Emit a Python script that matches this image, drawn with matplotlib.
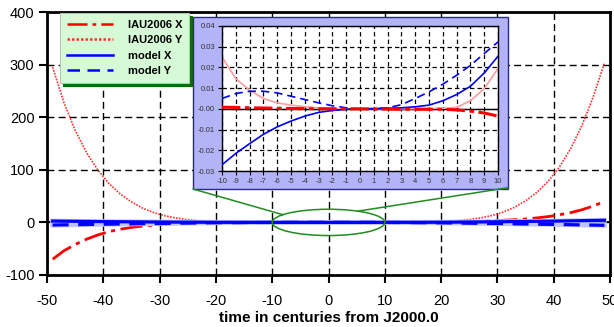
import matplotlib
matplotlib.use('Agg')
import matplotlib.pyplot as plt
from matplotlib.patches import Ellipse, Rectangle, ConnectionPatch

plt.rcParams['font.family'] = ['Liberation Sans', 'DejaVu Sans']
plt.rcParams['axes.unicode_minus'] = False

# main curves (centuries from J2000.0)
x_main = [-49, -47, -45, -43, -41, -39, -37, -35, -33, -31, -29, -27, -25,
          -23, -21, -19, -17, -15, -13, -11, -9, -7, -5, -3, -1,
          1, 3, 5, 7, 9, 11, 13, 15, 17, 19, 21, 23, 25, 27, 29, 31, 33,
          35, 37, 39, 41, 43, 45, 47, 49]
iau_x = [-70, -54, -42, -32, -24, -17.5, -13, -9.5, -7, -5, -3.4, -2.3, -1.5,
         -0.9, -0.5, -0.3, -0.15, -0.07, -0.03, -0.01, 0.0, 0.0, 0.0, 0.0, 0.0,
         0.0, 0.0, 0.0, 0.0, 0.0, -0.01, 0.0, 0.05, 0.15, 0.3, 0.6, 1.0, 1.5,
         2.2, 3.0, 4.0, 5.0, 6.5, 8.5, 11, 14.5, 18.5, 24, 31, 40]
iau_y = [295, 228, 175, 133, 100, 74, 54, 39, 27, 18.5, 12.5, 8.2, 5.2,
         3.1, 1.8, 1.0, 0.5, 0.25, 0.1, 0.04, 0.015, 0.005, 0.002, 0.0, 0.0,
         0.0, 0.0, 0.002, 0.001, 0.01, 0.04, 0.1, 0.25, 0.5, 1.0, 1.9, 3.2,
         5.4, 8.5, 13, 19.5, 28.5, 41, 57, 78, 105, 140, 184, 238, 303]
x_model = [-49, -40, -30, -20, -10, 0, 10, 20, 30, 40, 49]
model_x = [2.5, 1.5, 0.7, 0.2, -0.027, 0, 0.025, 0.3, 1.2, 2.4, 4]
model_y = [-5, -3.5, -2, -0.6, 0.005, 0, 0.032, -0.8, -2.2, -3.8, -5.5]

# zoomed part, -10..10
x_zoom = [-10, -9, -8, -7, -6, -5, -4, -3, -2, -1, 0, 1, 2, 3, 4, 5, 6, 7, 8, 9, 10]
zoom_iau_x = [0.0008, 0.0007, 0.0005, 0.0004, 0.0003, 0.0002, 0.0001, 0.00005,
              0.00002, 0.0, 0.0, -0.00005, -0.0001, -0.0002, -0.0002, -0.0002,
              -0.0002, -0.0005, -0.0011, -0.002, -0.0035]
zoom_iau_y = [0.025, 0.0146, 0.009, 0.005, 0.0029, 0.0018, 0.001, 0.0005, 0.0002,
              0.0, 0.0, 0.0, 0.0, 0.0, 0.0001, 0.0002, 0.0003, 0.0007, 0.0039,
              0.0098, 0.0195]
zoom_model_x = [-0.027, -0.0215, -0.0168, -0.0123, -0.0087, -0.0059, -0.0035,
                -0.0017, -0.0008, -0.0002, 0.0, 0.0001, 0.0002, 0.0005, 0.001,
                0.0018, 0.0039, 0.0069, 0.0109, 0.0173, 0.0254]
zoom_model_y = [0.005, 0.0074, 0.0085, 0.0085, 0.0077, 0.0061, 0.0045, 0.0029,
                0.0015, 0.0005, 0.0, 0.0001, 0.0005, 0.002, 0.005, 0.0082, 0.0119,
                0.0162, 0.021, 0.0267, 0.0323]

W, H = 614, 327
fig = plt.figure(figsize=(W / 100, H / 100), dpi=100)
ax = fig.add_axes([47 / W, 1 - 275 / H, 563 / W, 263 / H], zorder=0)

dash = (0, (5, 3))
ax.grid(True, color='black', linestyle=dash, linewidth=1)
ax.axhline(0, color='black', lw=1.3, zorder=1.5)

l1, = ax.plot(x_main, iau_x, color='red', lw=2, linestyle=(0, (8, 2, 1.5, 2)),
              label='IAU2006 X', zorder=2)
l2, = ax.plot(x_main, iau_y, color='#ff3030', lw=1.2, linestyle=(0, (1, 0.8)),
              label='IAU2006 Y', zorder=2)
ax.plot(x_model, model_x, color='#c0c4ff', lw=3.5, zorder=2.5)
ax.plot(x_model, model_y, color='#c0c4ff', lw=3.5, zorder=2.5)
l3, = ax.plot(x_model, model_x, color='blue', lw=2.3, label='model X', zorder=3)
l4, = ax.plot(x_model, model_y, color='blue', lw=2.3, linestyle=(0, (5, 3)),
              label='model Y', zorder=3)

ax.add_patch(Ellipse((0, 0), 20, 50, fill=False, edgecolor='#1e8c1e', lw=1.1,
                     zorder=4))

ax.set_xlim(-50, 50)
ax.set_ylim(-100, 400)
ax.set_xticks(range(-50, 51, 10))
ax.set_yticks(range(-100, 401, 100))
for s in ax.spines.values():
    s.set_linewidth(2)
ax.tick_params(direction='out', length=6, width=1.5, labelsize=10.5, pad=3)
ax.tick_params(axis='x', pad=8)
ax.set_xlabel('time in centuries from J2000.0', fontsize=11, fontweight='bold',
              labelpad=2)

leg = ax.legend(handles=[l1, l2, l3, l4], loc='upper left',
                bbox_to_anchor=(60 / W, 1 - 13 / H), bbox_transform=fig.transFigure,
                borderaxespad=0, fancybox=False, framealpha=1,
                facecolor='#d6fad6', edgecolor='#b0c8b0',
                shadow={'color': '#007000', 'alpha': 1},
                prop={'weight': 'bold', 'size': 8}, handlelength=4.2,
                handletextpad=1.3, labelspacing=0.5, borderpad=0.6)
leg.get_frame().set_linewidth(0.8)
for ln in leg.get_lines():
    ln.set_linewidth(1.8)

# lavender box behind the zoom axes
bx0, by0, bx1, by1 = 193 / W, 1 - 189 / H, 508 / W, 1 - 17 / H
fig.add_artist(Rectangle((bx0, by0), bx1 - bx0, by1 - by0, transform=fig.transFigure,
                         facecolor='#b3b3f7', edgecolor='#2a2a8a', lw=1, zorder=1))

for fx, fy, dx in [(bx0, by0, -8.1), (bx1, by0 + 0.004, 5.2)]:
    dy = 25 * (1 - (dx / 10) ** 2) ** 0.5
    con = ConnectionPatch(xyA=(fx, fy), coordsA=fig.transFigure,
                          xyB=(dx, dy), coordsB=ax.transData,
                          color='#1e8c1e', lw=1.1, zorder=1.5)
    fig.add_artist(con)

ins = fig.add_axes([222 / W, 1 - 171 / H, 276 / W, 145 / H], zorder=2)
ins.grid(True, color='black', linestyle=(0, (3.5, 2.5)), linewidth=0.9)
ins.axhline(0, color='black', lw=1, zorder=1.5)
ins.plot(x_zoom, zoom_iau_y, color='#ff9c9c', lw=1.2, zorder=2)
ins.plot(x_zoom, zoom_model_x, color='blue', lw=1.2, zorder=3)
ins.plot(x_zoom, zoom_model_y, color='blue', lw=1.2, linestyle=(0, (5, 3)), zorder=3)
ins.plot(x_zoom, zoom_iau_x, color='red', lw=2.2, linestyle=(0, (6, 1.5, 1.5, 1.5)),
         zorder=4)
ins.set_xlim(-10, 10)
ins.set_ylim(-0.03, 0.04)
ins.set_xticks(range(-10, 11))
yt = [-0.03, -0.02, -0.01, 0.0, 0.01, 0.02, 0.03, 0.04]
ins.set_yticks(yt)
ins.set_yticklabels(['-0.03', '-0.02', '-0.01', '-0.00', '0.01', '0.02', '0.03', '0.04'])
ins.tick_params(direction='out', length=3, width=0.8, labelsize=5.5,
                labelcolor='#333333', pad=2)
for s in ins.spines.values():
    s.set_linewidth(1)

fig.savefig('out.png', dpi=100)
